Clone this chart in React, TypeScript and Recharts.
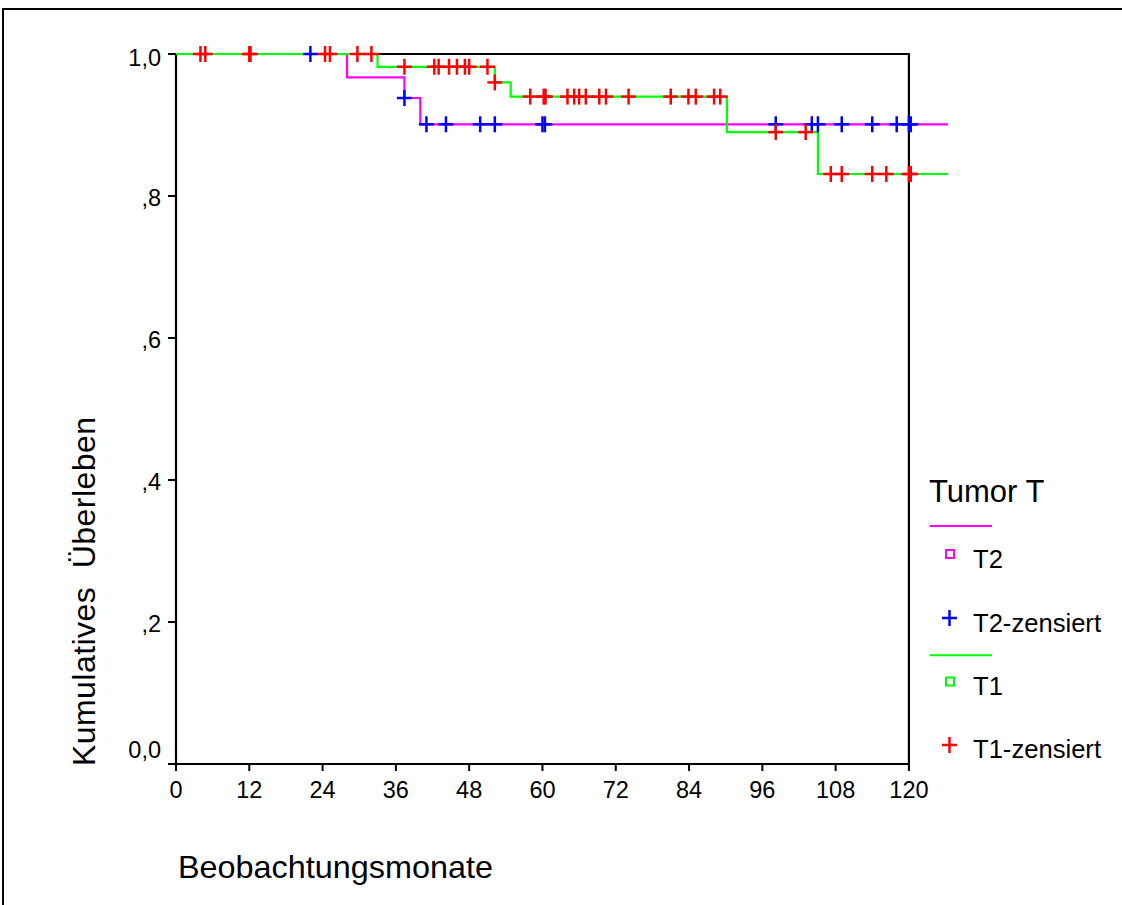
import React from 'react';
import { ComposedChart, Line, Scatter, XAxis, YAxis } from 'recharts';

const FONT = '"Liberation Sans", Arial, Helvetica, sans-serif';

const xTicks = [0, 12, 24, 36, 48, 60, 72, 84, 96, 108, 120];
const yTicks = [0, 0.2, 0.4, 0.6, 0.8, 1];
const yTickLabels = ['0,0', ',2', ',4', ',6', ',8', '1,0'];

// Kaplan-Meier step curves (time in months, cumulative survival)
const t2Curve = [
  { t: 0, s: 1 },
  { t: 28, s: 0.967 },
  { t: 37.4, s: 0.938 },
  { t: 40, s: 0.901 },
  { t: 126.4, s: 0.901 },
];
const t1Curve = [
  { t: 0, s: 1 },
  { t: 33, s: 0.982 },
  { t: 52.2, s: 0.96 },
  { t: 54.8, s: 0.94 },
  { t: 90.2, s: 0.89 },
  { t: 105.1, s: 0.831 },
  { t: 126.4, s: 0.831 },
];

// censored observations
const t2Censored = [
  { t: 22, s: 1 },
  { t: 37.4, s: 0.938 },
  { t: 41, s: 0.901 },
  { t: 44.2, s: 0.901 },
  { t: 49.8, s: 0.901 },
  { t: 52.2, s: 0.901 },
  { t: 60, s: 0.901 },
  { t: 60.4, s: 0.901 },
  { t: 98.2, s: 0.901 },
  { t: 104.1, s: 0.901 },
  { t: 105.1, s: 0.901 },
  { t: 109, s: 0.901 },
  { t: 114, s: 0.901 },
  { t: 118, s: 0.901 },
  { t: 120, s: 0.901 },
  { t: 120.3, s: 0.901 },
];
const t1Censored = [
  { t: 4, s: 1 },
  { t: 4.8, s: 1 },
  { t: 12, s: 1 },
  { t: 12.2, s: 1 },
  { t: 24.4, s: 1 },
  { t: 25.2, s: 1 },
  { t: 29.7, s: 1 },
  { t: 32, s: 1 },
  { t: 37.4, s: 0.982 },
  { t: 42.3, s: 0.982 },
  { t: 43, s: 0.982 },
  { t: 44.7, s: 0.982 },
  { t: 46, s: 0.982 },
  { t: 47.3, s: 0.982 },
  { t: 48, s: 0.982 },
  { t: 51, s: 0.982 },
  { t: 52.2, s: 0.96 },
  { t: 58, s: 0.94 },
  { t: 60.2, s: 0.94 },
  { t: 60.5, s: 0.94 },
  { t: 64.1, s: 0.94 },
  { t: 65.2, s: 0.94 },
  { t: 66, s: 0.94 },
  { t: 67.1, s: 0.94 },
  { t: 69.3, s: 0.94 },
  { t: 70.4, s: 0.94 },
  { t: 74.1, s: 0.94 },
  { t: 81, s: 0.94 },
  { t: 83.9, s: 0.94 },
  { t: 85.1, s: 0.94 },
  { t: 88.1, s: 0.94 },
  { t: 89.1, s: 0.94 },
  { t: 98.2, s: 0.89 },
  { t: 103.1, s: 0.89 },
  { t: 107.2, s: 0.831 },
  { t: 109, s: 0.831 },
  { t: 114, s: 0.831 },
  { t: 116.3, s: 0.831 },
  { t: 120, s: 0.831 },
  { t: 120.3, s: 0.831 },
];

// plot frame (domain corners)
const frame = [
  { t: 0, s: 0 },
  { t: 0, s: 1 },
  { t: 120, s: 1 },
  { t: 120, s: 0 },
  { t: 0, s: 0 },
];

const MAGENTA = '#FF00FF';
const GREEN = '#00FF00';
const BLUE = '#0000FF';
const RED = '#FF0000';

const makePlus = (color: string) => (props: any) => {
  const { cx, cy } = props;
  if (cx == null || cy == null) return <g />;
  return (
    <g>
      <line x1={cx - 7.5} x2={cx + 7.5} y1={cy} y2={cy} stroke={color} strokeWidth={2.5} />
      <line x1={cx} x2={cx} y1={cy - 8} y2={cy + 8} stroke={color} strokeWidth={2.5} />
    </g>
  );
};

const YTick = (props: any) => {
  const { x, y, payload } = props;
  const v = payload.value;
  let idx = 0;
  let best = 1e9;
  yTicks.forEach((t, i) => {
    if (Math.abs(t - v) < best) {
      best = Math.abs(t - v);
      idx = i;
    }
  });
  const dy = idx === 0 ? -6 : idx === yTicks.length - 1 ? 11.5 : 10;
  return (
    <text x={x} y={y + dy} textAnchor="end" fontSize={23.5} fontFamily={FONT} fill="#000">
      {yTickLabels[idx]}
    </text>
  );
};

const XTick = (props: any) => {
  const { x, y, payload } = props;
  return (
    <text x={x} y={y + 25} textAnchor="middle" fontSize={23.5} fontFamily={FONT} fill="#000">
      {String(payload.value)}
    </text>
  );
};

const XLabel = () => (
  <text x={178} y={878} fontSize={32} fontFamily={FONT} fill="#000" textLength={315} lengthAdjust="spacingAndGlyphs">
    Beobachtungsmonate
  </text>
);

const YLabel = () => (
  <text
    x={0}
    y={0}
    transform="translate(95,591.5) rotate(-90)"
    textAnchor="middle"
    fontSize={32}
    fontFamily={FONT}
    fill="#000"
    style={{ whiteSpace: 'pre' }}
    textLength={349}
  >
    {'Kumulatives  Überleben'}
  </text>
);

const LegendBox = () => (
  <svg
    width={212}
    height={320}
    style={{ position: 'absolute', left: 910, top: 460, overflow: 'visible' }}
  >
    <text x={19} y={41.7} fontSize={31} fontFamily={FONT} fill="#000">Tumor T</text>
    <line x1={20} x2={82} y1={66} y2={66} stroke={MAGENTA} strokeWidth={2} />
    <rect x={36} y={90} width={8} height={8} fill="none" stroke={MAGENTA} strokeWidth={2} />
    <text x={63} y={108.3} fontSize={25.6} fontFamily={FONT} fill="#000">T2</text>
    <line x1={32} x2={47} y1={158} y2={158} stroke={BLUE} strokeWidth={2.5} />
    <line x1={39.5} x2={39.5} y1={150} y2={166} stroke={BLUE} strokeWidth={2.5} />
    <text x={63} y={171.7} fontSize={25.6} fontFamily={FONT} fill="#000">T2-zensiert</text>
    <line x1={20} x2={82} y1={195.3} y2={195.3} stroke={GREEN} strokeWidth={2} />
    <rect x={36} y={217.5} width={8} height={8} fill="none" stroke={GREEN} strokeWidth={2} />
    <text x={63} y={235} fontSize={25.6} fontFamily={FONT} fill="#000">T1</text>
    <line x1={32} x2={47} y1={285} y2={285} stroke={RED} strokeWidth={2.5} />
    <line x1={39.5} x2={39.5} y1={277} y2={293} stroke={RED} strokeWidth={2.5} />
    <text x={63} y={298} fontSize={25.6} fontFamily={FONT} fill="#000">T1-zensiert</text>
  </svg>
);

export default function App() {
  return (
    <div style={{ position: 'relative', width: 1122, height: 905, background: '#fff', overflow: 'hidden' }}>
      <style>{'body{margin:0;background:#fff;overflow:hidden}'}</style>
      <div
        style={{
          position: 'absolute',
          left: 2,
          top: 8,
          width: 1200,
          height: 1000,
          borderLeft: '2px solid #000',
          borderTop: '2px solid #000',
        }}
      />
      <div style={{ position: 'absolute', left: 0, top: 0 }}>
        <ComposedChart width={1122} height={905} margin={{ top: 54, right: 152, bottom: 81, left: 76 }}>
          <XAxis
            dataKey="t"
            type="number"
            domain={[0, 130]}
            ticks={xTicks}
            axisLine={false}
            tickLine={{ stroke: '#000', strokeWidth: 2 }}
            tickSize={7}
            tickMargin={2}
            height={60}
            tick={<XTick />}
            interval={0}
            label={<XLabel />}
          />
          <YAxis
            dataKey="s"
            type="number"
            domain={[0, 1]}
            ticks={yTicks}
            axisLine={false}
            tickLine={{ stroke: '#000', strokeWidth: 2 }}
            tickSize={8}
            tickMargin={7}
            width={100}
            tick={<YTick />}
            interval={0}
            label={<YLabel />}
          />
          <Line
            data={frame}
            dataKey="s"
            type="linear"
            stroke="#000"
            strokeWidth={2.2}
            dot={false}
            activeDot={false}
            isAnimationActive={false}
          />
          <Line
            data={t2Curve}
            dataKey="s"
            type="stepAfter"
            stroke={MAGENTA}
            strokeWidth={2.2}
            dot={false}
            activeDot={false}
            isAnimationActive={false}
          />
          <Line
            data={t1Curve}
            dataKey="s"
            type="stepAfter"
            stroke={GREEN}
            strokeWidth={2.2}
            dot={false}
            activeDot={false}
            isAnimationActive={false}
          />
          <Scatter data={t2Censored} dataKey="s" shape={makePlus(BLUE)} isAnimationActive={false} />
          <Scatter data={t1Censored} dataKey="s" shape={makePlus(RED)} isAnimationActive={false} />
        </ComposedChart>
      </div>
      <LegendBox />
    </div>
  );
}
